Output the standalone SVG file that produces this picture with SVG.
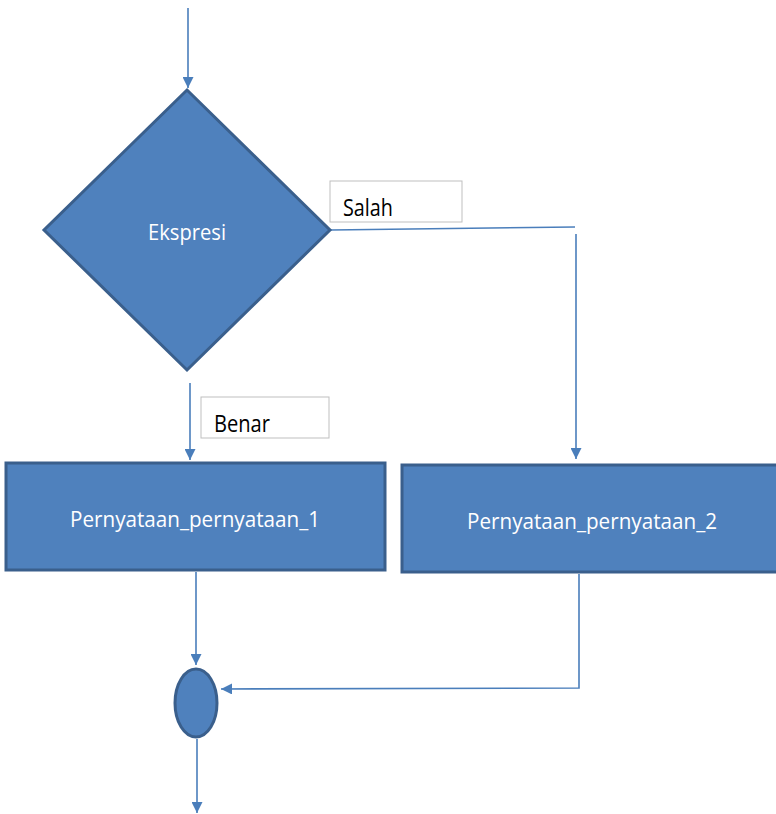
<svg xmlns="http://www.w3.org/2000/svg" width="776" height="814" viewBox="0 0 776 814">
<style>
.shape{fill:#4F81BD;stroke:#3A5F8C;stroke-width:3}
.conn{fill:none;stroke:#4A7EBB;stroke-width:1.6}
.lbl{fill:#FFFFFF;stroke:#BFBFBF;stroke-width:1}
.wt{fill:#FFFFFF;font-family:"Open Sans","Noto Sans",sans-serif;font-size:22px;dominant-baseline:central}
.bt{fill:#000000;font-family:"Open Sans","Noto Sans",sans-serif;font-size:23px;dominant-baseline:central}
</style>
<defs>
<marker id="arr" viewBox="0 0 10 10" refX="10" refY="5" markerWidth="11" markerHeight="11" markerUnits="userSpaceOnUse" orient="auto">
<path d="M0,0 L10,5 L0,10 z" fill="#4A7EBB"/>
</marker>
</defs>
<rect width="776" height="814" fill="#FFFFFF"/>
<g id="connectors">
<path class="conn" d="M188,8 L188,88" marker-end="url(#arr)"/>
<path class="conn" d="M331,230 L575,227"/>
<path class="conn" d="M576,234 L576,459" marker-end="url(#arr)"/>
<path class="conn" d="M190,383 L190,460" marker-end="url(#arr)"/>
<path class="conn" d="M196,572 L196,665" marker-end="url(#arr)"/>
<path class="conn" d="M579,574 L579,688 L221,689" marker-end="url(#arr)"/>
<path class="conn" d="M197,739 L197,813" marker-end="url(#arr)"/>
</g>
<g id="decision">
<polygon class="shape" points="187,90 330,230 187,370 44,230"/>
<text class="wt" x="187" y="231" text-anchor="middle" textLength="78" lengthAdjust="spacingAndGlyphs">Ekspresi</text>
</g>
<g id="label-salah">
<rect class="lbl" x="330" y="181" width="132" height="41"/>
<text class="bt" x="343" y="207" textLength="50" lengthAdjust="spacingAndGlyphs">Salah</text>
</g>
<g id="label-benar">
<rect class="lbl" x="201" y="397" width="128" height="41"/>
<text class="bt" x="214" y="423" textLength="56" lengthAdjust="spacingAndGlyphs">Benar</text>
</g>
<g id="process1">
<rect class="shape" x="6" y="463" width="379" height="107"/>
<text class="wt" x="195" y="518" text-anchor="middle" textLength="250" lengthAdjust="spacingAndGlyphs">Pernyataan_pernyataan_1</text>
</g>
<g id="process2">
<rect class="shape" x="402" y="465" width="380" height="107"/>
<text class="wt" x="592" y="520" text-anchor="middle" textLength="250" lengthAdjust="spacingAndGlyphs">Pernyataan_pernyataan_2</text>
</g>
<g id="connector-node">
<ellipse class="shape" cx="196" cy="703" rx="21" ry="34"/>
</g>
</svg>
